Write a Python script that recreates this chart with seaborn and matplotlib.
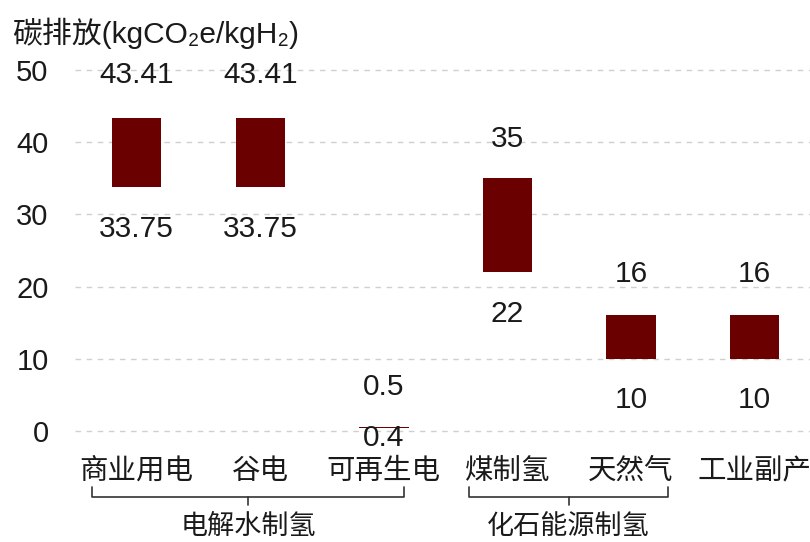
import matplotlib
matplotlib.use("Agg")
import matplotlib.pyplot as plt
import matplotlib.transforms as mtransforms
import seaborn as sns
import pandas as pd

# ---- data ----
categories = ["商业用电", "谷电", "可再生电", "煤制氢", "天然气", "工业副产"]
low_values = [33.75, 33.75, 0.4, 22, 10, 10]
high_values = [43.41, 43.41, 0.5, 35, 16, 16]
low_labels = ["33.75", "33.75", "0.4", "22", "10", "10"]
high_labels = ["43.41", "43.41", "0.5", "35", "16", "16"]
group_names = ["电解水制氢", "化石能源制氢"]
group_members = [(0, 2), (3, 4)]
y_ticks = [0, 10, 20, 30, 40, 50]
y_title = "碳排放(kgCO₂e/kgH₂)"

# ---- style ----
sns.set_theme(style="white")
plt.rcParams['font.family'] = ['Liberation Sans', 'Noto Sans CJK SC', 'DejaVu Sans']
CJK = ['Noto Sans CJK SC', 'DejaVu Sans']
BAR = "#6b0000"
TXT = "#1a1a1a"

df = pd.DataFrame({"cat": categories, "low": low_values, "high": high_values})
df["span"] = df["high"] - df["low"]

W, H = 810, 542
fig = plt.figure(figsize=(W / 100, H / 100), dpi=100)
ax = fig.add_axes([75 / W, (H - 438) / H, (W - 75) / W, (438 - 63) / H])

sns.barplot(data=df, x="cat", y="span", bottom=df["low"].values, color=BAR,
            saturation=1, width=0.4, errorbar=None, ax=ax, linewidth=0)

ax.set_ylim(-1, 51)
ax.set_xlim(-0.5, 5.45)
ax.set_yticks(y_ticks)
ax.set_yticklabels([str(t) for t in y_ticks], fontsize=21, color=TXT)
ax.set_xticks(range(len(categories)))
ax.set_xticklabels(categories, fontsize=20.5, family=CJK, color=TXT)
ax.tick_params(axis='y', length=0, pad=19)
ax.tick_params(axis='x', length=0, pad=13)
ax.set_xlabel("")
ax.set_ylabel("")
for s in ax.spines.values():
    s.set_visible(False)
ax.yaxis.grid(True, color="#d0d0d0", linestyle=(0, (4, 4)), linewidth=1)
ax.xaxis.grid(False)
ax.set_axisbelow(True)

# value labels
low_offsets = [-30, -30, -7, -30, -30, -30]
high_offsets = [31, 31, 29, 28, 30, 30]
for i, (lo, hi) in enumerate(zip(low_values, high_values)):
    ax.annotate(high_labels[i], (i, hi), xytext=(0, high_offsets[i]), textcoords="offset points",
                ha="center", va="center", fontsize=21.5, color=TXT)
    ax.annotate(low_labels[i], (i, lo), xytext=(0, low_offsets[i]), textcoords="offset points",
                ha="center", va="center", fontsize=21.5, color=TXT)

# group brackets
trans = mtransforms.blended_transform_factory(ax.transData, fig.transFigure)
bracket_pad = [(-0.36, 0.16), (-0.31, 0.30)]
y_line = 1 - 497 / H
y_end = 1 - 487 / H
y_tick = 1 - 505 / H
y_lab = 1 - 526 / H
for name, (a, b), (pl, pr) in zip(group_names, group_members, bracket_pad):
    x0, x1 = a + pl, b + pr
    xc = (x0 + x1) / 2
    ax.plot([x0, x0, x1, x1], [y_end, y_line, y_line, y_end], transform=trans,
            color="#333333", lw=1.2, clip_on=False)
    ax.plot([xc, xc], [y_line, y_tick], transform=trans, color="#333333", lw=1.2, clip_on=False)
    ax.text(xc, y_lab, name, transform=trans, ha="center", va="center",
            fontsize=19.5, family=CJK, color=TXT)

fig.text(12 / W, 1 - 33 / H, y_title, ha="left", va="center", fontsize=21.5, color=TXT)

fig.savefig("out.png", dpi=100)
